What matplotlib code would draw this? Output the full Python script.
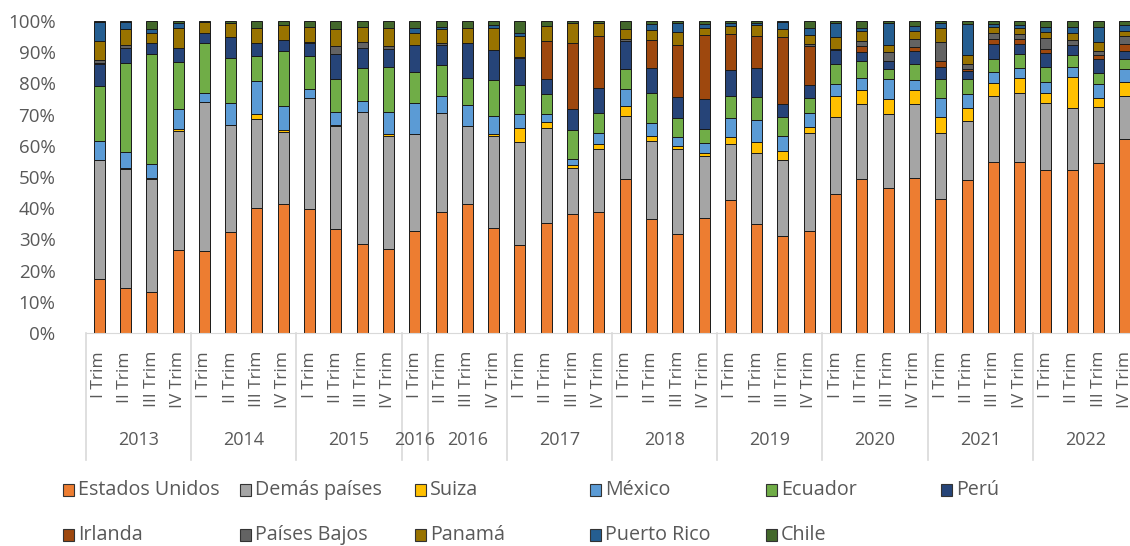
import numpy as np
import matplotlib
matplotlib.use("Agg")
import matplotlib.pyplot as plt
from matplotlib.patches import Rectangle

plt.rcParams['font.family'] = ['Open Sans', 'DejaVu Sans']

# --- data (shares, in %) ---
quarters = ["I Trim", "II Trim", "III Trim", "IV Trim"] * 3 + ["I Trim"] + \
           ["II Trim", "III Trim", "IV Trim"] + ["I Trim", "II Trim", "III Trim", "IV Trim"] * 6
years = ["2013", "2014", "2015", "2016", "2016", "2017", "2018", "2019", "2020", "2021", "2022"]
year_sizes = [4, 4, 4, 1, 3, 4, 4, 4, 4, 4, 4]

series_names = ["Estados Unidos", "Demás países", "Suiza", "México", "Ecuador", "Perú",
                "Irlanda", "Países Bajos", "Panamá", "Puerto Rico", "Chile"]

estados_unidos = [17.3, 14.4, 13.0, 26.5, 26.3, 32.3, 40.2, 41.2, 39.9, 33.4, 28.6, 27.0, 32.8, 38.9,
                  41.3, 33.7, 28.3, 35.3, 38.2, 38.8, 49.2, 36.4, 31.8, 36.9, 42.5, 35.0, 31.0, 32.6,
                  44.7, 49.5, 46.5, 49.7, 42.8, 49.0, 54.9, 54.9, 52.4, 52.4, 54.5, 62.2]
demas = [38.3, 38.3, 36.5, 38.4, 47.8, 34.3, 28.5, 23.3, 35.3, 32.9, 42.3, 36.1, 31.1, 31.7,
         25.2, 29.6, 32.9, 30.5, 14.7, 20.3, 20.5, 25.1, 27.2, 19.8, 18.1, 22.8, 24.3, 31.6,
         24.6, 24.0, 23.8, 23.8, 21.4, 19.1, 21.2, 22.1, 21.4, 19.6, 17.9, 13.7]
suiza = [0, 0.2, 0.3, 0.5, 0, 0, 1.6, 0.5, 0, 0.4, 0, 0.5, 0, 0, 0, 0.4, 4.6, 1.8, 1.1, 1.6,
         3.2, 1.8, 0.9, 1.1, 2.3, 3.4, 3.0, 1.8, 6.8, 4.3, 4.6, 4.3, 5.1, 4.1, 3.9, 4.8, 3.0, 10.1, 3.0, 4.5]
mexico = [6.0, 5.1, 4.4, 6.3, 2.9, 7.0, 10.6, 7.8, 3.1, 4.2, 3.4, 6.9, 9.9, 5.5, 6.7, 5.8, 4.5, 2.5,
          1.8, 3.5, 5.2, 4.1, 3.0, 3.2, 6.1, 7.2, 4.8, 4.6, 3.8, 4.0, 6.4, 3.2, 5.9, 4.5, 3.6, 3.2,
          3.6, 3.1, 4.3, 4.1]
ecuador = [17.5, 28.8, 35.3, 15.3, 16.0, 14.6, 7.9, 17.6, 10.5, 10.4, 10.5, 14.4, 9.8, 9.9, 8.6,
           11.5, 9.1, 6.6, 9.4, 6.2, 6.4, 9.6, 5.9, 4.5, 7.1, 7.3, 6.1, 4.8, 6.2, 5.4, 3.2, 5.1,
           6.3, 4.8, 4.3, 4.3, 4.9, 3.8, 3.5, 3.4]
peru = [7.0, 4.8, 3.5, 4.4, 3.3, 6.8, 4.2, 3.5, 4.0, 8.0, 6.6, 5.7, 8.7, 6.2, 11.2, 9.6, 8.8, 4.6,
        6.5, 8.0, 9.1, 7.8, 6.8, 9.4, 8.1, 9.3, 4.3, 4.0, 4.5, 2.9, 2.7, 4.3, 3.7, 2.5, 4.6, 3.4,
        4.5, 3.2, 4.7, 2.5]
irlanda = [0.3, 0, 0, 0, 0, 0, 0, 0, 0, 0, 0, 0, 0, 0, 0, 0, 0.3, 12.3, 21.3, 16.8, 0, 9.0, 16.7,
           20.5, 11.5, 10.2, 21.4, 12.6, 0.5, 1.9, 0, 1.3, 2.0, 0.5, 1.6, 1.4, 1.3, 0, 1.1, 2.3]
paises_bajos = [1.0, 0.9, 0, 0, 0, 0, 0, 0, 0.5, 2.7, 2.0, 1.1, 0, 0.8, 0, 0, 0, 0, 0, 0, 0.5, 0,
                0, 0, 0, 0, 0, 0.5, 0, 1.6, 2.9, 2.6, 6.2, 1.8, 2.2, 1.8, 3.3, 1.6, 1.4, 2.5]
panama = [6.2, 5.2, 3.0, 6.5, 3.4, 4.5, 4.9, 4.8, 4.8, 5.3, 4.8, 5.9, 4.0, 4.3, 4.9, 7.3, 6.7, 4.8,
          6.3, 4.1, 3.4, 3.3, 4.2, 2.5, 2.7, 3.4, 2.6, 2.9, 3.9, 3.2, 2.1, 2.5, 4.5, 2.7, 1.9, 2.0,
          2.2, 2.5, 2.9, 1.6]
puerto_rico = [6.1, 2.2, 1.3, 1.4, 0, 0, 0, 0, 0, 0, 0, 0, 1.6, 0.9, 0, 0.7, 1.1, 0, 0, 0, 0, 1.8,
               3.0, 1.0, 0.9, 0.9, 2.3, 2.5, 4.3, 1.1, 7.1, 1.6, 1.6, 10.1, 0.8, 0.7, 1.6, 1.9, 4.9, 1.8]
chile = [0.3, 0.3, 2.7, 0.7, 0.3, 0.5, 2.1, 1.3, 1.9, 2.7, 1.8, 2.1, 2.1, 1.8, 2.1, 1.4, 3.7, 1.6,
         0.7, 0.7, 2.5, 1.1, 0.5, 1.1, 0.7, 0.5, 0.2, 2.1, 0.7, 2.1, 0.7, 1.6, 0.5, 0.9, 1.0, 1.4,
         1.8, 1.8, 1.8, 1.4]

colors = ["#ED7D31", "#A5A5A5", "#FFC000", "#5B9BD5", "#70AD47", "#264478",
          "#9E480E", "#636363", "#997300", "#255E91", "#43682B"]

data = np.array([estados_unidos, demas, suiza, mexico, ecuador, peru, irlanda,
                 paises_bajos, panama, puerto_rico, chile], dtype=float)
# 100% stacked
data = data / data.sum(axis=0) * 100

W, H = 1130, 546
fig = plt.figure(figsize=(W / 100, H / 100), dpi=100)
ax = fig.add_axes([86 / W, 1 - 333 / H, 1052 / W, 312 / H])

x = np.arange(len(quarters))
bottom = np.zeros(len(quarters))
for vals, col, name in zip(data, colors, series_names):
    ax.bar(x, vals, 0.42, bottom=bottom, color=col, edgecolor="#1a1a1a", linewidth=0.7, label=name)
    bottom += vals

ax.set_xlim(-0.5, len(quarters) - 0.5)
ax.set_ylim(0, 100)
ax.set_yticks(np.arange(0, 101, 10))
ax.set_yticklabels([f"{v}%" for v in range(0, 101, 10)])
ax.set_xticks(x)
ax.set_xticklabels(quarters, rotation=90, va="top", ha="center")
ax.tick_params(axis="both", length=0, labelcolor="#595959")
ax.tick_params(axis="y", labelsize=13.5, pad=22)
ax.tick_params(axis="x", labelsize=12.5, pad=13)
for s in ["top", "right", "left"]:
    ax.spines[s].set_visible(False)
ax.spines["bottom"].set_color("#D9D9D9")

# year groups under the quarter labels
trans = ax.get_xaxis_transform()
start = 0
bounds = [0]
for yr, n in zip(years, year_sizes):
    ax.text(start + (n - 1) / 2, -(440 - 333) / 312, yr, transform=trans, ha="center", va="center",
            fontsize=13, color="#595959")
    start += n
    bounds.append(start)
for b in bounds:
    ax.plot([b - 0.5, b - 0.5], [0, -(460 - 333) / 312], transform=trans, color="#D9D9D9",
            lw=1.2, clip_on=False)

# legend laid out like the original (row-wise, fixed column pitch)
leg_cols = [63, 240, 415, 590, 766, 941]
leg_rows = [490, 535]
for i, (name, col) in enumerate(zip(series_names, colors)):
    r, c = divmod(i, 6)
    lx, ly = leg_cols[c], leg_rows[r]
    fig.add_artist(Rectangle((lx / W, 1 - (ly + 6) / H), 11 / W, 12 / H, transform=fig.transFigure,
                             facecolor=col, edgecolor="#333333", lw=0.8))
    fig.text((lx + 15) / W, 1 - ly / H, name, ha="left", va="center", fontsize=14.2, color="#595959")

fig.savefig("out.png", dpi=100)
